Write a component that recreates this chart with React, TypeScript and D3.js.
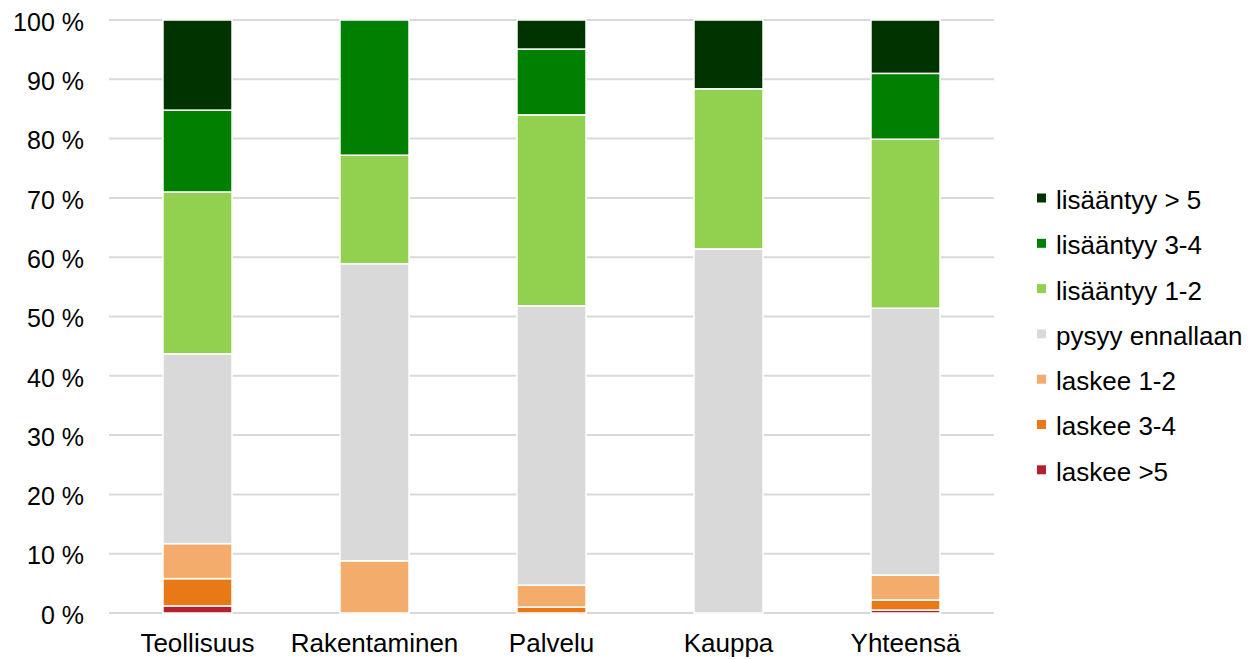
import React from "react";
import * as d3 from "d3";

const categories = ["Teollisuus", "Rakentaminen", "Palvelu", "Kauppa", "Yhteensä"];
const seriesNames = [
  "laskee >5",
  "laskee 3-4",
  "laskee 1-2",
  "pysyy ennallaan",
  "lisääntyy 1-2",
  "lisääntyy 3-4",
  "lisääntyy > 5",
];
const laskee5 = [1.2, 0, 0, 0, 0.5];
const laskee34 = [4.6, 0, 1.0, 0, 1.7];
const laskee12 = [5.9, 8.8, 3.7, 0, 4.2];
const pysyy = [32.0, 50.1, 47.1, 61.4, 45.0];
const lisaa12 = [27.3, 18.3, 32.2, 27.0, 28.5];
const lisaa34 = [13.8, 22.8, 11.1, 0, 11.1];
const lisaa5 = [15.2, 0, 4.9, 11.6, 9.0];
const colors = ["#b3202e", "#e97816", "#f3ac6c", "#d9d9d9", "#92d050", "#007f00", "#003300"];
const yTicks = [0, 10, 20, 30, 40, 50, 60, 70, 80, 90, 100];

const W = 1249;
const H = 659;

export default function App() {
  const values = [laskee5, laskee34, laskee12, pysyy, lisaa12, lisaa34, lisaa5];
  const rows = categories.map((c, i) => {
    const r: Record<string, any> = { cat: c };
    seriesNames.forEach((s, j) => (r[s] = values[j][i]));
    return r;
  });
  const stack = d3.stack<any>().keys(seriesNames)(rows);

  const x = d3.scaleBand().domain(categories).range([109, 994]).paddingInner(0.61).paddingOuter(0.305);
  const y = d3.scaleLinear().domain([0, 100]).range([613, 20]);

  // legend is drawn top-down: lisääntyy > 5 first
  const legendOrder = seriesNames.map((s, i) => ({ s, c: colors[i] })).reverse();

  return (
    <svg
      width={W}
      height={H}
      style={{ position: "absolute", left: 0, top: 0, fontFamily: "'Liberation Sans', Arial, sans-serif" }}
    >
      <rect width={W} height={H} fill="#fff" />
      {yTicks.map((t) => (
        <g key={t}>
          <line x1={109} x2={994} y1={y(t)} y2={y(t)} stroke="#d9d9d9" strokeWidth={2} />
          <text x={84} y={y(t)} dy="0.43em" textAnchor="end" fontSize={25} fill="#000">
            {t} %
          </text>
        </g>
      ))}
      {stack.map((layer, j) => (
        <g key={layer.key} fill={colors[j]}>
          {layer.map((d, i) =>
            d[1] - d[0] > 0 ? (
              <rect
                key={i}
                x={x(categories[i])}
                width={x.bandwidth()}
                y={y(d[1])}
                height={y(d[0]) - y(d[1])}
                stroke="#fff"
                strokeWidth={1.5}
              />
            ) : null
          )}
        </g>
      ))}
      {categories.map((c) => (
        <text key={c} x={(x(c) as number) + x.bandwidth() / 2} y={652} textAnchor="middle" fontSize={26} fill="#000">
          {c}
        </text>
      ))}
      {legendOrder.map((l, i) => (
        <g key={l.s} transform={`translate(1037, ${198 + i * 45.3})`}>
          <rect x={0} y={-4.5} width={9} height={9} fill={l.c} />
          <text x={19} y={0} dy="0.42em" fontSize={26} fill="#000">
            {l.s}
          </text>
        </g>
      ))}
    </svg>
  );
}
